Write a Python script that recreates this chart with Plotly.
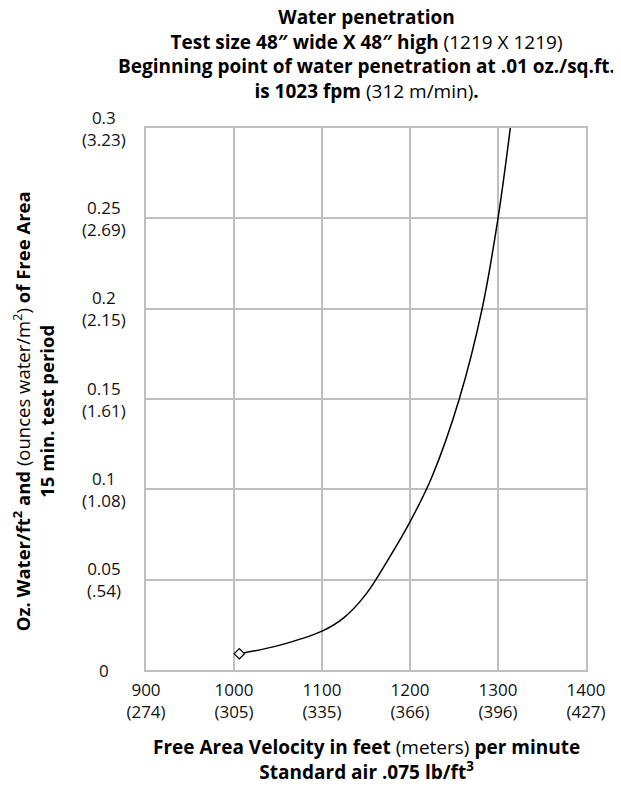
import plotly.graph_objects as go

# data
velocity_fpm = [1006, 1050, 1100, 1125, 1150, 1175, 1200, 1225, 1256, 1282, 1300, 1314]
water_oz = [0.009, 0.0135, 0.0215, 0.029, 0.042, 0.061, 0.082, 0.107, 0.15, 0.2, 0.25, 0.3]

x_ticks = [900, 1000, 1100, 1200, 1300, 1400]
x_metric = ["274", "305", "335", "366", "396", "427"]
y_ticks = [0, 0.05, 0.1, 0.15, 0.2, 0.25, 0.3]
y_labels = ["0", "0.05<br>(.54)", "0.1<br>(1.08)", "0.15<br>(1.61)", "0.2<br>(2.15)", "0.25<br>(2.69)", "0.3<br>(3.23)"]

FONT = "Open Sans"
GRID = "#bfbfbf"
TXT = "#111111"

fig = go.Figure()
fig.add_trace(go.Scatter(
    x=velocity_fpm, y=water_oz, mode="lines",
    line=dict(color="black", width=1.5, shape="spline", smoothing=1.0),
    showlegend=False, hoverinfo="skip"))
fig.add_trace(go.Scatter(
    x=velocity_fpm[:1], y=water_oz[:1], mode="markers",
    marker=dict(symbol="diamond", size=8, color="white", line=dict(color="black", width=1.2)),
    showlegend=False))

annotations = []
for v, t in zip(y_ticks, y_labels):
    annotations.append(dict(x=-0.0955, xref="paper", y=v, yref="y", text=t,
                            showarrow=False, xanchor="center", yanchor="middle",
                            align="center", font=dict(family=FONT, size=17, color=TXT)))

title_text = ("<b>Water penetration</b><br>"
              "<b>Test size 48\u2033 wide X 48\u2033 high</b> (1219 X 1219)<br>"
              "<b>Beginning point of water penetration at .01 oz./sq.ft.</b><br>"
              "<b>is 1023 fpm</b> (312 m/min)<b>.</b>")
annotations.append(dict(x=0.5, xref="paper", y=1.0, yref="paper", yshift=74,
                        text=title_text, showarrow=False, xanchor="center", yanchor="middle",
                        align="center", font=dict(family=FONT, size=19, color="black")))

xtitle = ("<b>Free Area Velocity in feet</b> (meters) <b>per minute</b><br>"
          "<b>Standard air .075 lb/ft<sup>3</sup></b>")
annotations.append(dict(x=0.5, xref="paper", y=0, yref="paper", yshift=-89.5,
                        text=xtitle, showarrow=False, xanchor="center", yanchor="middle",
                        align="center", font=dict(family=FONT, size=19, color="black")))

ytitle = ("<b>Oz. Water/ft<sup>2</sup> and</b> (ounces water/m<sup>2</sup>) <b>of Free Area</b><br>"
          "<b>15 min. test period</b>")
annotations.append(dict(x=-0.255, xref="paper", y=0.477, yref="paper", textangle=-90,
                        text=ytitle, showarrow=False, xanchor="center", yanchor="middle",
                        align="center", font=dict(family=FONT, size=18.5, color="black")))

fig.update_layout(
    width=613, height=778,
    margin=dict(l=138, r=35, t=120, b=115.5),
    paper_bgcolor="white", plot_bgcolor="white",
    font=dict(family=FONT, size=17, color=TXT),
    annotations=annotations,
    xaxis=dict(range=[900, 1400], tickvals=x_ticks,
               ticktext=[f"{a}<br>({b})" for a, b in zip(x_ticks, x_metric)],
               showgrid=True, gridcolor=GRID, gridwidth=1.5,
               showline=True, linecolor=GRID, linewidth=1.5, mirror=True,
               ticks="", ticklabelstandoff=4, zeroline=False,
               tickfont=dict(family=FONT, size=17, color=TXT)),
    yaxis=dict(range=[0, 0.3], tickvals=y_ticks, showticklabels=False,
               showgrid=True, gridcolor=GRID, gridwidth=1.5,
               showline=True, linecolor=GRID, linewidth=1.5, mirror=True,
               ticks="", zeroline=False),
)

fig.write_html("out.html")
